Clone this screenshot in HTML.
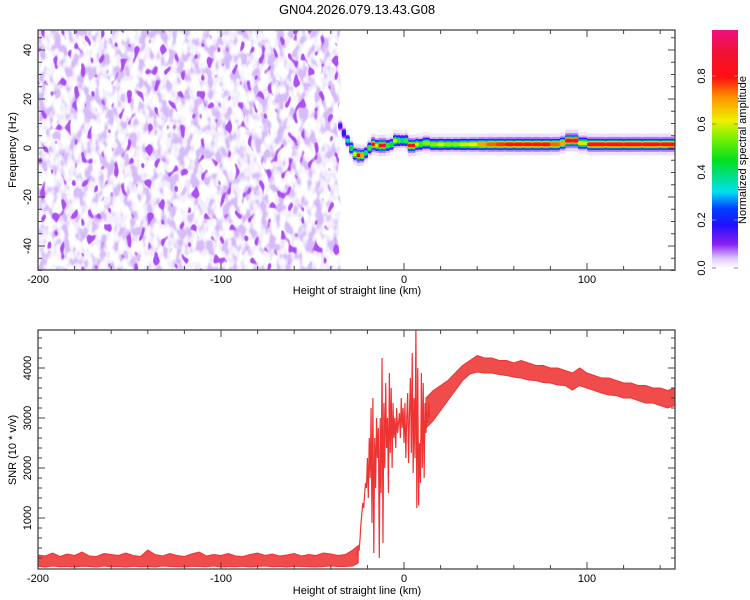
<!DOCTYPE html>
<html><head><meta charset="utf-8">
<style>
html,body{margin:0;padding:0;background:#fff;}
svg{display:block;font-family:"Liberation Sans",sans-serif;}
</style></head>
<body>
<svg id="chart" width="750" height="600" viewBox="0 0 750 600">
<defs>
  <filter id="speckLight" x="0" y="0" width="100%" height="100%">
    <feTurbulence type="fractalNoise" baseFrequency="0.13 0.075" numOctaves="2" seed="7" result="n"/>
    <feColorMatrix in="n" type="matrix" values="0 0 0 0 0.84  0 0 0 0 0.77  0 0 0 0 0.98  5 0 0 0 -1.9"/>
  </filter>
  <filter id="speckMid" x="0" y="0" width="100%" height="100%">
    <feTurbulence type="fractalNoise" baseFrequency="0.13 0.075" numOctaves="2" seed="7" result="n"/>
    <feColorMatrix in="n" type="matrix" values="0 0 0 0 0.68  0 0 0 0 0.50  0 0 0 0 0.96  8 0 0 0 -4.3"/>
  </filter>
  <filter id="speckDark" x="0" y="0" width="100%" height="100%">
    <feTurbulence type="fractalNoise" baseFrequency="0.15 0.09" numOctaves="1" seed="21" result="n"/>
    <feColorMatrix in="n" type="matrix" values="0 0 0 0 0.42  0 0 0 0 0.08  0 0 0 0 0.90  14 0 0 0 -8.6"/>
  </filter>
  <clipPath id="noiseClip"><polygon points="38,30 340,30 338,60 342,90 336,120 340,150 337,180 342,210 338,240 341,270 38,270"/></clipPath>
  <clipPath id="topClip"><rect x="38" y="30" width="637" height="240"/></clipPath>
  <clipPath id="botClip"><rect x="38" y="330" width="637" height="239"/></clipPath>
  <linearGradient id="cbGrad" x1="0" y1="1" x2="0" y2="0">
    <stop offset="0" stop-color="#ffffff"/><stop offset="0.04" stop-color="#e0c8ff"/>
    <stop offset="0.1" stop-color="#8a20f0"/><stop offset="0.18" stop-color="#2010ff"/>
    <stop offset="0.25" stop-color="#0040ff"/><stop offset="0.32" stop-color="#00e0f0"/>
    <stop offset="0.45" stop-color="#00e020"/><stop offset="0.55" stop-color="#80f000"/>
    <stop offset="0.62" stop-color="#f0f000"/><stop offset="0.72" stop-color="#ff9000"/>
    <stop offset="0.8" stop-color="#ff1010"/><stop offset="0.9" stop-color="#f01030"/>
    <stop offset="1" stop-color="#f01080"/>
  </linearGradient>
</defs>
<text x="357" y="14" text-anchor="middle" font-size="13">GN04.2026.079.13.43.G08</text>
<g clip-path="url(#noiseClip)">
  <rect x="38" y="30" width="310" height="240" filter="url(#speckLight)"/>
  <rect x="38" y="30" width="310" height="240" filter="url(#speckMid)"/>
  <rect x="38" y="30" width="310" height="240" filter="url(#speckDark)"/>
</g>
<g id="ridge" clip-path="url(#topClip)"></g>
<g id="snr" clip-path="url(#botClip)"></g>
<g id="axes"></g>
<rect x="712" y="30" width="26" height="238" fill="url(#cbGrad)"/>
<g id="cb"></g>
<text transform="translate(746,150) rotate(-90)" text-anchor="middle" font-size="11">Normalized spectral amplitude</text>
<text transform="translate(16,150) rotate(-90)" text-anchor="middle" font-size="11">Frequency (Hz)</text>
<text transform="translate(16,450) rotate(-90)" text-anchor="middle" font-size="11">SNR (10 * v/v)</text>
<text x="357" y="294" text-anchor="middle" font-size="11">Height of straight line (km)</text>
<text x="357" y="594" text-anchor="middle" font-size="11">Height of straight line (km)</text>
</svg>
<script>
// ---- data ----
const ridgeKm   = [-36,-34,-32,-30,-28,-26,-24,-22,-20,-18,-16,-14,-12,-10,-8,-6,-4,-2,0,2,4,6,8,10,14,18,22,26,30,35,40,45,50,55,60,65,70,75,80,85,88,92,95,100,110,120,130,140,148];
const ridgeFreq = [9,6,3,0,-2.5,-3,-3,-2,0,1.5,1,1,1,1,1.5,3,3,3,3,1,1,1.5,1.5,2,1.5,1.5,1.5,1.5,1.5,1.5,1.5,1.5,1.5,1.5,1.5,1.5,1.5,1.5,1.5,2,3,3,2,1.5,1.5,1.5,1.5,1.5,1.5];
const ridgeAmp  = [0.15,0.2,0.35,0.45,0.6,0.9,0.7,0.4,0.5,0.85,0.6,0.9,0.9,0.5,0.45,0.6,0.5,0.4,0.5,0.85,0.85,0.6,0.5,0.55,0.55,0.6,0.55,0.55,0.6,0.62,0.7,0.75,0.78,0.8,0.82,0.82,0.82,0.8,0.75,0.7,0.9,0.9,0.6,0.8,0.82,0.82,0.82,0.82,0.8];

const bandKm = [-200,-196,-192,-188,-184,-180,-176,-172,-168,-164,-160,-156,-152,-148,-144,-140,-136,-132,-128,-124,-120,-116,-112,-108,-104,-100,-96,-92,-88,-84,-80,-76,-72,-68,-64,-60,-56,-52,-48,-44,-40,-36,-32,-28,-25,12,16,20,24,28,32,36,40,44,48,52,56,60,64,68,72,76,80,84,88,92,96,100,104,108,112,116,120,124,128,132,136,140,144,148];
const bandLo = [30,20,40,25,30,20,35,30,20,40,25,30,20,35,25,30,20,40,30,25,20,35,30,25,40,20,30,25,35,20,30,40,25,30,20,35,30,25,20,30,40,30,30,40,100,2800,2950,3150,3350,3550,3750,3880,3920,3900,3900,3870,3850,3820,3800,3760,3750,3710,3700,3660,3650,3560,3650,3600,3550,3500,3460,3450,3400,3400,3350,3300,3300,3250,3200,3250];
const bandHi = [260,240,300,230,280,250,320,240,230,290,270,250,300,250,230,360,270,240,290,250,230,280,320,240,270,250,290,240,230,270,300,250,280,240,260,290,240,270,250,300,280,250,270,360,450,3400,3550,3650,3750,3900,4050,4150,4250,4200,4200,4150,4150,4100,4150,4100,4050,4050,4000,4000,3950,3900,4000,3900,3850,3800,3800,3750,3700,3700,3650,3650,3600,3600,3550,3600];

const spikeStart = -26, spikeStep = 0.5;
const spikeVal = [300,250,400,350,600,900,1100,1300,1200,1500,1700,1600,2200,1400,2600,1800,3200,900,3400,300,2600,1600,3000,2200,2800,200,3000,1500,4200,500,3300,2000,3700,2400,3000,1500,3900,2300,3600,2000,3300,2600,3000,2400,3200,2700,2900,3100,2600,3400,2800,3200,2500,3300,2200,3000,3500,2100,3100,3800,2300,4300,1900,3400,2200,4800,1200,4000,1250,2500,1700,3900,2000,3700,1800,3300,2700,3100,2900,3300,3000];

const xTicks = [-200,-100,0,100];
const fTicks = [-40,-20,0,20,40];
const snrTicks = [1000,2000,3000,4000];
const cbTicks = [0.0,0.2,0.4,0.6,0.8];

// ---- scales ----
const X = km => 38 + (km + 200) * 1.83;
const YF = f => 148 - f * 2.45;
const YS = v => 568 - v * 0.05;
const YC = a => 268 - a * 240;
const NS = "http://www.w3.org/2000/svg";
function mk(tag, attrs, parent){const e=document.createElementNS(NS,tag);for(const k in attrs)e.setAttribute(k,attrs[k]);parent.appendChild(e);return e;}

const stops=[[0,[255,255,255]],[0.04,[224,200,255]],[0.1,[138,32,240]],[0.18,[32,16,255]],[0.25,[0,64,255]],[0.32,[0,224,240]],[0.45,[0,224,32]],[0.55,[128,240,0]],[0.62,[240,240,0]],[0.72,[255,144,0]],[0.8,[255,16,16]],[0.9,[240,16,48]],[1,[240,16,128]]];
function cmap(a){a=Math.max(0,Math.min(1,a));for(let i=1;i<stops.length;i++){if(a<=stops[i][0]){const [a0,c0]=stops[i-1],[a1,c1]=stops[i];const t=(a-a0)/(a1-a0);return `rgb(${c0.map((c,j)=>Math.round(c+(c1[j]-c)*t)).join(',')})`;}}return 'rgb(240,16,128)';}

// ---- ridge ----
const ridgeG=document.getElementById('ridge');
const layers=[[0.05,22],[0.12,15],[0.3,11],[0.5,8],[0.75,6],[1,4]];
layers.forEach(([f,h])=>{
  for(let i=0;i<ridgeKm.length-1;i++){
    const x0=X(ridgeKm[i]),x1=X(ridgeKm[i+1]);
    const y=YF(ridgeFreq[i]);
    const r=mk('rect',{x:x0,y:y-h/2,width:x1-x0+0.6,height:h,rx:2,fill:cmap(ridgeAmp[i]*f),opacity:f<0.2?0.55:1},ridgeG);
    
    
  }
});

// ---- snr ----
const snrG=document.getElementById('snr');
let segs=[[0]];
for(let i=1;i<bandKm.length;i++){if(bandKm[i]-bandKm[i-1]>8)segs.push([i]);else segs[segs.length-1].push(i);}
segs.forEach(idx=>{
  let pts=idx.map(i=>`${X(bandKm[i])},${YS(bandHi[i])}`);
  for(let j=idx.length-1;j>=0;j--)pts.push(`${X(bandKm[idx[j]])},${YS(bandLo[idx[j]])}`);
  const band=mk('polygon',{points:pts.join(' '),fill:'#ee3333','fill-opacity':0.88,stroke:'#ee3333','stroke-width':1},snrG);
  
  
});
const sp=spikeVal.map((v,i)=>`${X(spikeStart+i*spikeStep)},${YS(v)}`).join(' ');
const spl=mk('polyline',{points:sp,fill:'none',stroke:'#ee3333','stroke-width':1.2},snrG);



// ---- axes ----
const ax=document.getElementById('axes');
function frame(T,B,name){
  const f=mk('rect',{x:38,y:T,width:637,height:B-T,fill:'none',stroke:'#444','stroke-width':1.3},ax);
  
  
  for(let k=-200;k<=148;k+=20){const x=X(k),L=(k%100===0)?7:4;
    mk('line',{x1:x,x2:x,y1:B,y2:B-L,stroke:'#444'},ax);mk('line',{x1:x,x2:x,y1:T,y2:T+L,stroke:'#444'},ax);}
  xTicks.forEach(k=>{const t=mk('text',{x:X(k),y:B+13,'text-anchor':'middle','font-size':11},ax);t.textContent=k;
    
    });
}
frame(30,270,'top-plot-frame');frame(330,569,'bottom-plot-frame');
for(let f=-50;f<=48;f+=5){const y=YF(f),L=(f%20===0)?7:4;mk('line',{x1:38,x2:38+L,y1:y,y2:y,stroke:'#444'},ax);mk('line',{x1:675,x2:675-L,y1:y,y2:y,stroke:'#444'},ax);}
fTicks.forEach(f=>{const t=mk('text',{transform:`translate(31,${YF(f)}) rotate(-90)`,'text-anchor':'middle','font-size':11},ax);t.textContent=f;
  
  });
for(let v=200;v<=4780;v+=200){const y=YS(v),L=(v%1000===0)?7:4;mk('line',{x1:38,x2:38+L,y1:y,y2:y,stroke:'#444'},ax);mk('line',{x1:675,x2:675-L,y1:y,y2:y,stroke:'#444'},ax);}
snrTicks.forEach(v=>{const t=mk('text',{transform:`translate(31,${YS(v)}) rotate(-90)`,'text-anchor':'middle','font-size':11},ax);t.textContent=v;
  
  });
const cb=document.getElementById('cb');
cbTicks.forEach(a=>{const t=mk('text',{transform:`translate(705,${YC(a)}) rotate(-90)`,'text-anchor':'middle','font-size':11},cb);t.textContent=a.toFixed(1);
  
  
  mk('line',{x1:712,x2:716,y1:YC(a),y2:YC(a),stroke:'#888'},cb);mk('line',{x1:734,x2:738,y1:YC(a),y2:YC(a),stroke:'#888'},cb);});
</script>
</body></html>
